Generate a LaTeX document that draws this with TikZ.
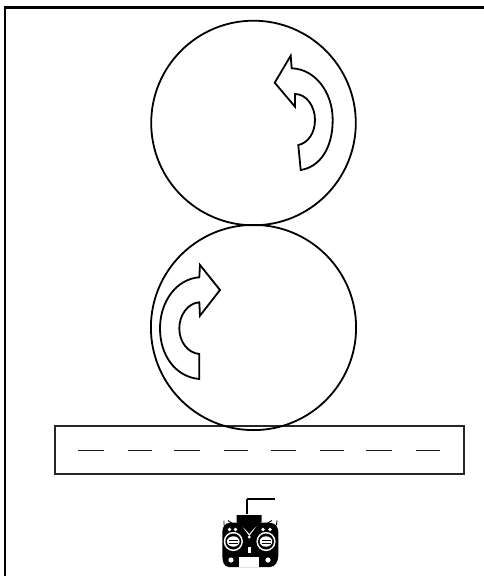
\documentclass[tikz,border=0pt]{standalone}
\begin{document}
\begin{tikzpicture}[x=1pt,y=-1pt,
  ink/.style={draw=black,line width=1.8pt,line join=miter},
  hole/.style={fill=white,draw=none},
  solid ink/.style={fill=black,draw=none}]
\useasboundingbox (0,0) rectangle (484,576);
\fill[white] (0,0) rectangle (484,576);
% frame
\draw[black,line width=2.2pt] (5,576) -- (5,7.5) -- (484,7.5);
% belt
\draw[ink,draw=black!85] (55,426) rectangle (464,474);
\foreach \a/\b in {78/104,128/152,174/200,224/248,271/296,320/344,366/392,416/440}
  \draw[black!90,line width=1.8pt] (\a,450.5) -- (\b,450.5);
% rollers
\draw[ink] (253.5,123) circle (102.3);
\draw[ink] (253.5,327.5) circle (102.6);
% arrows
\draw[ink] (274.7,82.7) -- (290.7,55.7) -- (291.7,68.3)
  .. controls (315,69) and (332.7,92) .. (332.7,120)
  .. controls (332.7,148) and (320,167) .. (300.7,170)
  -- (298.3,145)
  .. controls (308,143) and (315,133) .. (315,120)
  .. controls (315,107) and (307,94) .. (295,94)
  -- (295,106.7) -- cycle;
\draw[ink] (220,290) -- (200,265) -- (199.3,277.3)
  .. controls (176,279) and (160,302) .. (160,328.3)
  .. controls (160,356) and (176,377) .. (199.3,379)
  -- (199.3,354)
  .. controls (188,353) and (179.3,342) .. (179.3,328.3)
  .. controls (179.3,315) and (188,303) .. (199.3,302.3)
  -- (200,315.7) -- cycle;
% remote control
\draw[black,line width=2.2pt] (247.3,514) -- (247.3,499.2);
\draw[black,line width=1.7pt] (246.5,499.2) -- (275,499.2);
\fill[black,rounded corners=4pt] (222.3,528) -- (226,522.7) -- (274,522.7) -- (278.3,528) -- (278.3,560) -- (274,567) -- (225,567) -- (222.3,560) -- cycle;
\draw[white,line width=1pt] (239,521.5) -- (249.3,535) -- (259.5,521.5);
\fill[black] (236.5,515) -- (261.5,515) -- (261.5,522) -- (250,532) -- (248.5,532) -- (236.5,522) -- cycle;
\draw[black,line width=0.9pt] (224,525) -- (224,520.5) (276.5,525) -- (277,520.5);
\draw[black,line width=0.9pt] (233,524) -- (228,520.5) (266,524) -- (272,520.5);
\foreach \x in {229.5,235.5,263,270}
  \fill[white] (\x,529.5) circle (1.9);
\foreach \c in {233.3,266}{
  \fill[white] (\c,541.5) circle (9.6);
  \fill[black] (\c,541.5) circle (8);
  \fill[white] (\c,541.5) ellipse (6.3 and 5.2);
  \fill[black] (\c-4.5,540) rectangle (\c+4.5,541.1);
  \fill[black] (\c-4.5,543) rectangle (\c+4.5,544.1);
}
\fill[white] (249.3,537) circle (1.6);
\fill[white] (247.5,547) rectangle (251,553);
\fill[white] (231,560) circle (2.6);
\fill[white] (268,560) circle (2.6);
\fill[white] (239.3,556.7) rectangle (259.3,566.7);
\end{tikzpicture}
\end{document}
